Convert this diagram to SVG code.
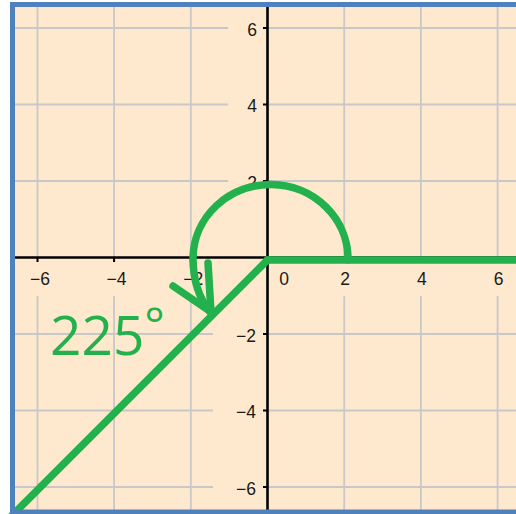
<svg xmlns="http://www.w3.org/2000/svg" width="516" height="514" viewBox="0 0 516 514">
<style>
.grid{stroke:#C8C8C8;stroke-width:1.8;fill:none}
.axis{stroke:#000;stroke-width:2.6;fill:none}
.tick{stroke:#000;stroke-width:2;fill:none}
.lbl{font-family:"Liberation Sans",Arial,sans-serif;font-size:17.5px;fill:#1a1a1a}
.g{stroke:#22B14C;stroke-width:7.5;fill:none;stroke-linecap:round;stroke-linejoin:round}
</style>
<rect x="0" y="0" width="516" height="514" fill="#FFFFFF"/>
<rect x="12" y="4" width="510" height="508" fill="#FFE9CE"/>
<g id="grid">
<path class="grid" d="M37.5 7V257.5M114.1 7V257.5M190.8 7V257.5M344.2 7V257.5M420.9 7V257.5M497.6 7V257.5"/>
<path class="grid" d="M37.5 296V510M114.1 296V510M190.8 296V510M344.2 296V510M420.9 296V510M497.6 296V510"/>
<path class="grid" d="M15 28H228M15 104.5H228M15 181H228M15 334H213M15 410.5H213M15 487H213"/>
<path class="grid" d="M267.5 28H516M267.5 104.5H516M267.5 181H516M267.5 334H516M267.5 410.5H516M267.5 487H516"/>
</g>
<g id="axes">
<path class="axis" d="M267.5 7V510M15 257.5H516"/>
<path class="tick" d="M263 28H267.5M263 104.5H267.5M263 181H267.5M263 334H267.5M263 410.5H267.5M263 487H267.5"/>
<path class="tick" d="M37.5 257.5V262M114.1 257.5V262M190.8 257.5V262M344.2 257.5V262M420.9 257.5V262M497.6 257.5V262"/>
</g>
<g id="ylabels" class="lbl" text-anchor="end">
<text x="257" y="35.5">6</text>
<text x="257" y="112">4</text>
<text x="257" y="188.5">2</text>
<text x="256" y="341.5">−2</text>
<text x="256" y="418">−4</text>
<text x="256" y="494.5">−6</text>
</g>
<g id="xlabels" class="lbl" text-anchor="middle">
<text x="40" y="285">−6</text>
<text x="116.6" y="285">−4</text>
<text x="193.3" y="285">−2</text>
<text x="284" y="285">0</text>
<text x="345.2" y="285">2</text>
<text x="421.9" y="285">4</text>
<text x="498.6" y="285">6</text>
</g>
<g id="connectors">
<path id="terminal" class="g" d="M267.5 260L8 519.5" stroke-linecap="butt"/>
<path id="initial" class="g" d="M267.5 260H520" stroke-linecap="butt"/>
<path id="arc" class="g" d="M348 260A77.5 74.5 0 0 0 193 258C193 280 199 298 210 312"/>
<path id="arrowhead" class="g" d="M173 286L211 312M208 263L211 312"/>
</g>
<g id="angle-label">
<text x="50" y="355" font-family="'Open Sans',sans-serif" font-size="55" fill="#22B14C">225<tspan dy="-13" font-size="48">°</tspan></text>
</g>
<rect id="border" x="12.5" y="4.5" width="520" height="507.5" fill="none" stroke="#4F81BD" stroke-width="5"/>
</svg>
